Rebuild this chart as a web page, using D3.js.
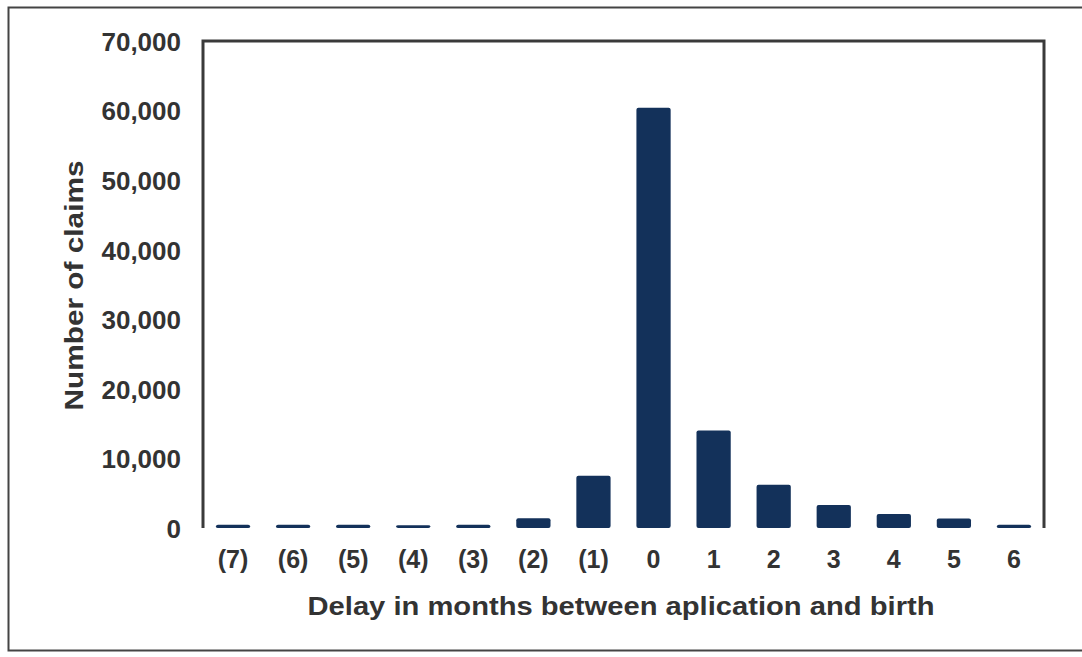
<!DOCTYPE html>
<html>
<head>
<meta charset="utf-8">
<script src="https://cdn.jsdelivr.net/npm/d3@7"></script>
<style>
  body { margin: 0; background: #fff; }
  svg { display: block; font-family: "Liberation Sans", Arial, sans-serif; }
</style>
</head>
<body>
<div id="chart"></div>
<script>
// delay categories (months) and claim counts
const categories = ['(7)', '(6)', '(5)', '(4)', '(3)', '(2)', '(1)', '0', '1', '2', '3', '4', '5', '6'];
const claims = [450, 450, 450, 400, 450, 1400, 7500, 60400, 14000, 6200, 3300, 2000, 1350, 450];
const yTicks = [0, 10000, 20000, 30000, 40000, 50000, 60000, 70000];

const W = 1082, H = 657;
const margin = { top: 41, right: 38, bottom: 129, left: 203 };
const width = W - margin.left - margin.right;
const height = H - margin.top - margin.bottom;

const svg = d3.select('#chart').append('svg')
    .attr('width', W)
    .attr('height', H);

// outer frame
svg.append('rect')
    .attr('x', 8.5).attr('y', 7.5)
    .attr('width', W).attr('height', 643)
    .attr('fill', 'none')
    .attr('stroke', '#444')
    .attr('stroke-width', 2);

const g = svg.append('g')
    .attr('transform', `translate(${margin.left},${margin.top})`);

const x = d3.scaleBand()
    .domain(categories)
    .range([0, width])
    .paddingInner(0.43)
    .paddingOuter(0.215);

const y = d3.scaleLinear()
    .domain([0, 70000])
    .range([height, 0]);

// plot frame: top, left, right
g.append('path')
    .attr('d', `M0,${height}V0H${width}V${height}`)
    .attr('fill', 'none')
    .attr('stroke', '#3a3a3a')
    .attr('stroke-width', 3);

// bars
g.selectAll('rect.bar')
    .data(claims)
    .join('rect')
    .attr('class', 'bar')
    .attr('x', (d, i) => x(categories[i]))
    .attr('y', d => y(d))
    .attr('width', x.bandwidth())
    .attr('height', d => y(0) - y(d))
    .attr('rx', 2)
    .attr('fill', '#13315a');

// y axis
const yAxis = g.append('g')
    .call(d3.axisLeft(y).tickValues(yTicks).tickSize(0).tickPadding(22)
        .tickFormat(d3.format(',')));
yAxis.select('.domain').remove();
yAxis.selectAll('text')
    .attr('font-size', 26)
    .attr('fill', '#333')
    .attr('font-weight', 'bold')
    .attr('dy', '0.36em');

// x axis
const xAxis = g.append('g')
    .attr('transform', `translate(0,${height})`)
    .call(d3.axisBottom(x).tickSize(0).tickPadding(22));
xAxis.select('.domain').remove();
xAxis.selectAll('text')
    .attr('font-size', 25)
    .attr('fill', '#333')
    .attr('font-weight', 'bold');

// axis titles
g.append('text')
    .attr('x', 418)
    .attr('y', height + 87)
    .attr('text-anchor', 'middle')
    .attr('font-size', 25)
    .attr('font-weight', 'bold')
    .attr('fill', '#333')
    .attr('textLength', 627)
    .attr('lengthAdjust', 'spacingAndGlyphs')
    .text('Delay in months between aplication and birth');

g.append('text')
    .attr('transform', `translate(${-120},${height / 2 + 1}) rotate(-90)`)
    .attr('text-anchor', 'middle')
    .attr('font-size', 25)
    .attr('font-weight', 'bold')
    .attr('fill', '#333')
    .attr('textLength', 250)
    .attr('lengthAdjust', 'spacingAndGlyphs')
    .text('Number of claims');
</script>
</body>
</html>
